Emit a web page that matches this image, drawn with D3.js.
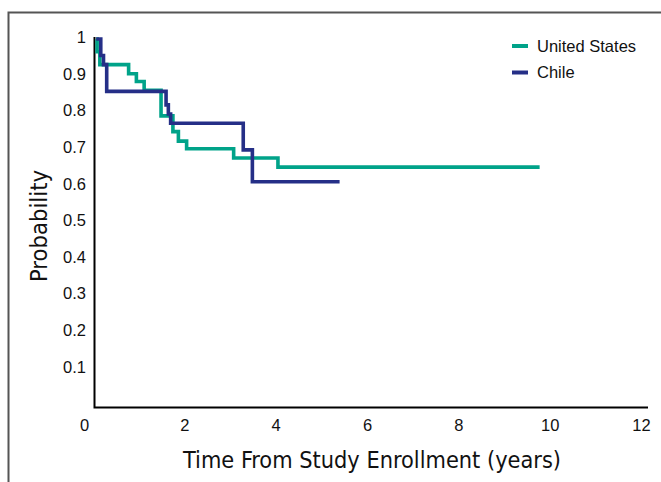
<!DOCTYPE html>
<html><head><meta charset="utf-8">
<script src="https://cdn.jsdelivr.net/npm/d3@7"></script>
<style>
html,body{margin:0;padding:0;background:#fff;}
svg{display:block;}
</style></head>
<body>
<svg id="chart" width="661" height="482"></svg>
<script>
// ---- data ----
const seriesNames = ["United States", "Chile"];
const usTime = [0.07, 0.09, 0.15, 0.78, 0.95, 1.12, 1.49, 1.75, 1.87, 2.05, 3.08, 4.05, 9.78];
const usSurv = [1, 0.965, 0.93, 0.905, 0.884, 0.86, 0.79, 0.747, 0.721, 0.70, 0.675, 0.65, 0.65];
const chileTime = [0.07, 0.17, 0.23, 0.30, 1.60, 1.65, 1.70, 3.29, 3.49, 5.40];
const chileSurv = [1, 0.955, 0.93, 0.857, 0.82, 0.795, 0.77, 0.697, 0.61, 0.61];
const xTicks = [0, 2, 4, 6, 8, 10, 12];
const yTicks = [0.1, 0.2, 0.3, 0.4, 0.5, 0.6, 0.7, 0.8, 0.9, 1];
const colors = ["#00A389", "#252F87"];

const svg = d3.select("#chart");
const x = d3.scaleLinear().domain([0, 12]).range([93, 641]);
const y = d3.scaleLinear().domain([0, 1]).range([405, 39]);

// outer frame (top + left)
svg.append("path").attr("d", "M8.5,482 L8.5,12.5 L661,12.5")
  .attr("fill", "none").attr("stroke", "#555").attr("stroke-width", 2);

// axes lines
const axisY = 407.5, axisX = 94.5;
svg.append("path").attr("d", `M${axisX},37 L${axisX},${axisY} L648,${axisY}`)
  .attr("fill", "none").attr("stroke", "#000").attr("stroke-width", 2);

// y tick labels
const yAxis = d3.axisLeft(y).tickValues(yTicks).tickSize(0).tickPadding(0)
  .tickFormat(d => d === 1 ? "1" : d3.format(".1f")(d));
const gy = svg.append("g").attr("transform", "translate(86,-1.5)").call(yAxis);
gy.select(".domain").remove();
gy.selectAll("text").attr("font-family", "'Liberation Sans', Arial, sans-serif")
  .attr("font-size", 16.5).attr("fill", "#111");

// x tick labels
const xAxis = d3.axisBottom(x).tickValues(xTicks).tickSize(0).tickPadding(0)
  .tickFormat(d => String(d));
const gx = svg.append("g").attr("transform", "translate(0,419)").call(xAxis);
gx.select(".domain").remove();
gx.selectAll("text").attr("font-family", "'Liberation Sans', Arial, sans-serif")
  .attr("font-size", 16.5).attr("fill", "#111")
  .attr("dx", d => d === 0 ? -9 : 0);

// axis titles
svg.append("text").attr("x", 372).attr("y", 468).attr("text-anchor", "middle")
  .attr("font-family", "'Liberation Sans Narrow', 'DejaVu Sans Condensed', sans-serif")
  .attr("font-size", 23).attr("fill", "#111")
  .attr("textLength", 378).attr("lengthAdjust", "spacingAndGlyphs")
  .text("Time From Study Enrollment (years)");
svg.append("text").attr("transform", "translate(47,226) rotate(-90)").attr("text-anchor", "middle")
  .attr("font-family", "'Liberation Sans Narrow', 'DejaVu Sans Condensed', sans-serif")
  .attr("font-size", 23).attr("fill", "#111")
  .attr("textLength", 112).attr("lengthAdjust", "spacingAndGlyphs")
  .text("Probability");

// curves
const line = d3.line().x(d => x(d[0])).y(d => y(d[1])).curve(d3.curveStepAfter);
const series = [d3.zip(usTime, usSurv), d3.zip(chileTime, chileSurv)];
series.forEach((s, i) => {
  svg.append("path").datum(s).attr("d", line)
    .attr("fill", "none").attr("stroke", colors[i]).attr("stroke-width", 3.6)
    .attr("stroke-linejoin", "miter").attr("stroke-linecap", "butt");
});

// legend
const lg = svg.append("g");
seriesNames.forEach((n, i) => {
  const ly = 46 + i * 26.5;
  lg.append("line").attr("x1", 512).attr("x2", 528).attr("y1", ly).attr("y2", ly)
    .attr("stroke", colors[i]).attr("stroke-width", 4);
  lg.append("text").attr("x", 537).attr("y", ly).attr("dy", "0.35em")
    .attr("font-family", "'Liberation Sans', Arial, sans-serif").attr("font-size", 16.5)
    .attr("fill", "#111").text(n);
});
</script>
</body></html>
